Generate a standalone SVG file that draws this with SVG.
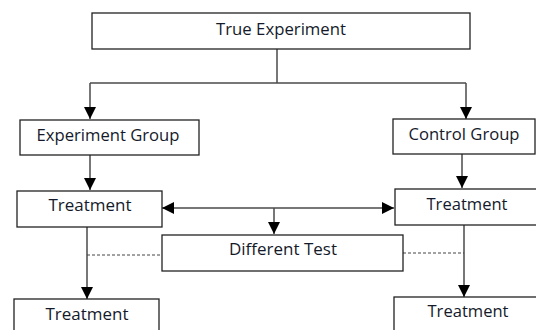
<svg xmlns="http://www.w3.org/2000/svg" width="536" height="330" viewBox="0 0 536 330">
<defs>
<style>
.box{fill:#fff;stroke:#222;stroke-width:1.3}
.t{font-family:"Open Sans","Liberation Sans",sans-serif;font-size:15.5px;fill:#141a2a;text-anchor:middle}
.ln{fill:none;stroke:#4a4a4a;stroke-width:1.5}
.dash{fill:none;stroke:#444;stroke-width:1;stroke-dasharray:3,2}
</style>
<marker id="ah2" viewBox="0 0 10 10" refX="10" refY="5" markerWidth="12" markerHeight="12" markerUnits="userSpaceOnUse" orient="auto-start-reverse">
<path d="M0,0 L10,5 L0,10 z" fill="#000"/>
</marker>
</defs>
<rect width="536" height="330" fill="#fff"/>
<g id="connectors">
<path class="ln" d="M277,49 V83"/>
<path class="ln" d="M90,83 H466"/>
<path class="ln" d="M90,83 V119" marker-end="url(#ah2)"/>
<path class="ln" d="M466,83 V119" marker-end="url(#ah2)"/>
<path class="ln" d="M90,155 V190" marker-end="url(#ah2)"/>
<path class="ln" d="M462,154 V188" marker-end="url(#ah2)"/>
<path class="ln" d="M162,208 H394" marker-start="url(#ah2)" marker-end="url(#ah2)"/>
<path class="ln" d="M274,208 V234" marker-end="url(#ah2)"/>
<path class="ln" d="M87,227 V299" marker-end="url(#ah2)"/>
<path class="ln" d="M464,225 V297" marker-end="url(#ah2)"/>
<path class="dash" d="M87,255 H162"/>
<path class="dash" d="M403,253 H464"/>
</g>
<g id="true-experiment">
<rect class="box" x="92" y="13" width="378" height="36"/>
<text class="t" x="281" y="35" textLength="130" lengthAdjust="spacingAndGlyphs">True Experiment</text>
</g>
<g id="experiment-group">
<rect class="box" x="20" y="120" width="179" height="35"/>
<text class="t" x="108" y="141" textLength="143" lengthAdjust="spacingAndGlyphs">Experiment Group</text>
</g>
<g id="control-group">
<rect class="box" x="393" y="119" width="142" height="35"/>
<text class="t" x="464" y="140" textLength="111" lengthAdjust="spacingAndGlyphs">Control Group</text>
</g>
<g id="treatment-left">
<rect class="box" x="17" y="191" width="145" height="36"/>
<text class="t" x="90" y="211" textLength="83" lengthAdjust="spacingAndGlyphs">Treatment</text>
</g>
<g id="treatment-right">
<rect class="box" x="395" y="189" width="150" height="36"/>
<text class="t" x="467" y="210" textLength="81" lengthAdjust="spacingAndGlyphs">Treatment</text>
</g>
<g id="different-test">
<rect class="box" x="162" y="235" width="241" height="36"/>
<text class="t" x="283" y="255" textLength="108" lengthAdjust="spacingAndGlyphs">Different Test</text>
</g>
<g id="treatment-bottom-left">
<rect class="box" x="14" y="299" width="145" height="40"/>
<text class="t" x="87" y="320" textLength="83" lengthAdjust="spacingAndGlyphs">Treatment</text>
</g>
<g id="treatment-bottom-right">
<rect class="box" x="394" y="297" width="150" height="40"/>
<text class="t" x="468" y="317" textLength="81" lengthAdjust="spacingAndGlyphs">Treatment</text>
</g>
</svg>
